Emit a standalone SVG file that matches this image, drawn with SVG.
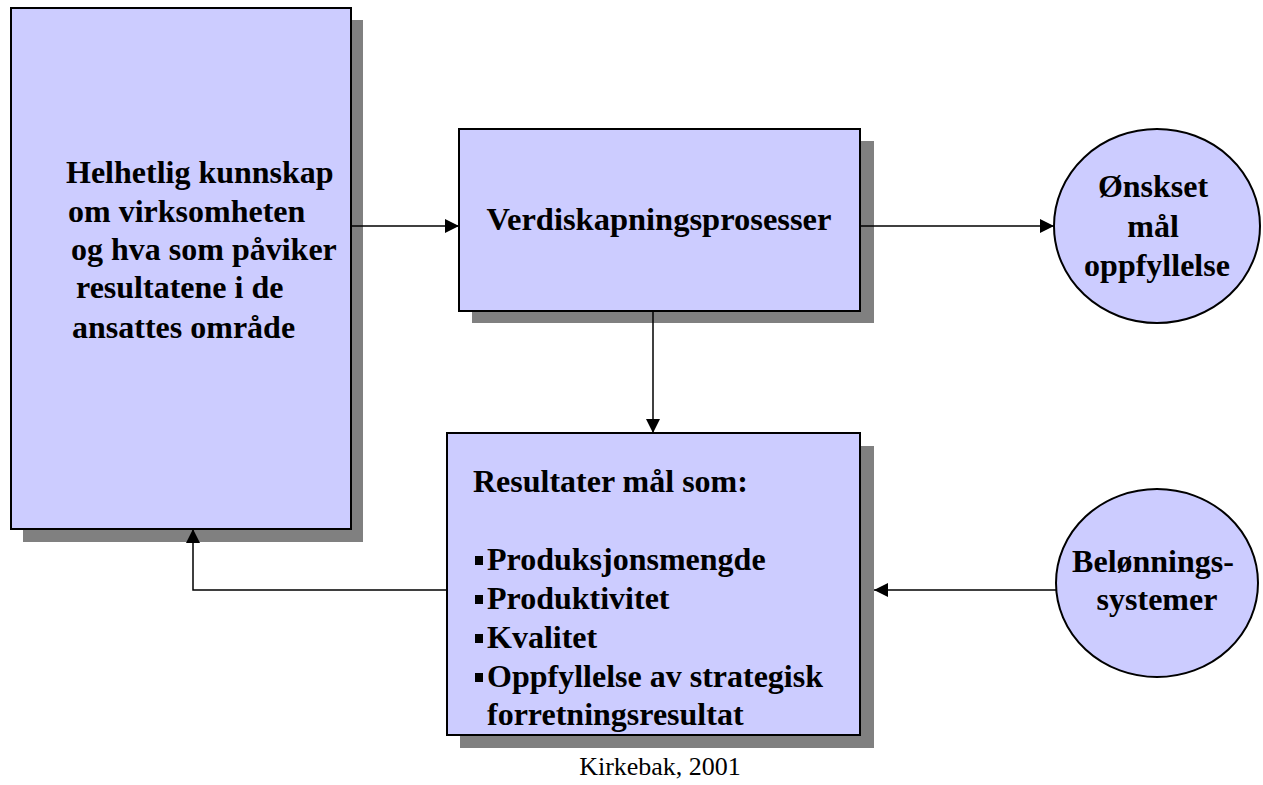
<svg xmlns="http://www.w3.org/2000/svg" width="1263" height="785" viewBox="0 0 1263 785">
  <defs>
    <marker id="arrow" viewBox="0 0 10 10" refX="10" refY="5" markerWidth="14" markerHeight="14" markerUnits="userSpaceOnUse" orient="auto">
      <path d="M0,0 L10,5 L0,10 Z" fill="#000"/>
    </marker>
    <style>
      .shadow { fill: #808080; }
      .box { fill: #ccccff; stroke: #000; stroke-width: 2; }
      .txt { font-family: "Liberation Serif", "Times New Roman", serif; font-weight: bold; font-size: 32px; fill: #000; }
      .conn { fill: none; stroke: #000; stroke-width: 1.5; }
      .credit { font-family: "Liberation Serif", "Times New Roman", serif; font-size: 26px; fill: #000; }
    </style>
  </defs>
  <rect width="1263" height="785" fill="#fff"/>

  <g id="knowledge">
    <rect class="shadow" x="23" y="20" width="340" height="522"/>
    <rect class="box" x="11" y="8" width="340" height="521"/>
    <text class="txt">
      <tspan x="66" y="183">Helhetlig kunnskap</tspan>
      <tspan x="68" y="222">om virksomheten</tspan>
      <tspan x="71" y="260">og hva som påviker</tspan>
      <tspan x="76" y="298">resultatene i de</tspan>
      <tspan x="72" y="338">ansattes område</tspan>
    </text>
  </g>

  <g id="processes">
    <rect class="shadow" x="472" y="141" width="402" height="182"/>
    <rect class="box" x="459" y="129" width="401" height="182"/>
    <text class="txt" x="659" y="230" text-anchor="middle" style="font-size:32.5px">Verdiskapningsprosesser</text>
  </g>

  <g id="goal">
    <ellipse class="box" cx="1157" cy="226" rx="103" ry="97"/>
    <text class="txt" text-anchor="middle">
      <tspan x="1157" y="197">Ønskset</tspan>
      <tspan x="1157" y="237">mål</tspan>
      <tspan x="1157" y="276">oppfyllelse</tspan>
    </text>
  </g>

  <g id="results">
    <rect class="shadow" x="460" y="446" width="414" height="302"/>
    <rect class="box" x="447" y="433" width="413" height="302"/>
    <text class="txt" x="473" y="492">Resultater mål som:</text>
    <g fill="#000">
      <rect x="475" y="556" width="8" height="9"/>
      <rect x="475" y="595" width="8" height="9"/>
      <rect x="475" y="634" width="8" height="9"/>
      <rect x="475" y="673" width="8" height="9"/>
    </g>
    <text class="txt">
      <tspan x="487" y="570">Produksjonsmengde</tspan>
      <tspan x="487" y="609">Produktivitet</tspan>
      <tspan x="487" y="648">Kvalitet</tspan>
      <tspan x="487" y="687">Oppfyllelse av strategisk</tspan>
      <tspan x="487" y="725">forretningsresultat</tspan>
    </text>
  </g>

  <g id="rewards">
    <ellipse class="box" cx="1157" cy="583" rx="101" ry="94"/>
    <text class="txt" text-anchor="middle">
      <tspan x="1157" y="572">Belønnings-</tspan>
      <tspan x="1157" y="610">systemer</tspan>
    </text>
  </g>

  <g id="connectors">
    <line class="conn" x1="351" y1="226" x2="459" y2="226" marker-end="url(#arrow)"/>
    <line class="conn" x1="860" y1="226" x2="1054" y2="226" marker-end="url(#arrow)"/>
    <line class="conn" x1="653" y1="311" x2="653" y2="433" marker-end="url(#arrow)"/>
    <polyline class="conn" points="447,590 193,590 193,529" marker-end="url(#arrow)"/>
    <line class="conn" x1="1056" y1="590" x2="874" y2="590" marker-end="url(#arrow)"/>
  </g>

  <text class="credit" x="660" y="775" text-anchor="middle">Kirkebak, 2001</text>
</svg>
